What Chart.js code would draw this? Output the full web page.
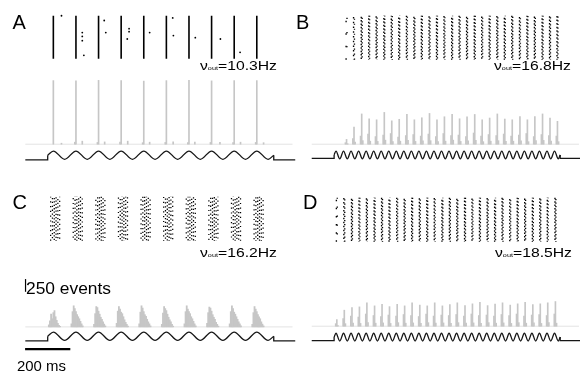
<!DOCTYPE html>
<html><head><meta charset="utf-8">
<script src="https://cdn.jsdelivr.net/npm/chart.js@4/dist/chart.umd.min.js"></script>
<style>
html,body{margin:0;padding:0;background:#fff;}
#wrap{position:relative;width:584px;height:372px;overflow:hidden;background:#fff;}
#c{position:absolute;left:0;top:0;}
.t{position:absolute;font-family:"Liberation Sans",Arial,Helvetica,sans-serif;color:#000;white-space:nowrap;line-height:1;transform-origin:0 0;}
.lab{font-size:20px;}
.nu{font-size:13px;}
.sub{font-size:6px;vertical-align:0px;}
</style></head>
<body><div id="wrap"><canvas id="c" width="584" height="372"></canvas></div>
<script>
// ---------------- DATA ----------------
// Stimulus waveforms (arbitrary units), knots at onset, peaks/troughs, offset (ms)
const stim10T = [0, 25, 75, 125, 175, 225, 275, 325, 375, 425, 475, 525, 575, 625, 675, 725, 775, 825, 875, 925, 975, 1000];
const stim10V = [4.8, 9, 0.6, 9, 0.6, 9, 0.6, 9, 0.6, 9, 0.6, 9, 0.6, 9, 0.6, 9, 0.6, 9, 0.6, 9, 0.6, 4.8];
const stim30T = [0, 8.3, 25, 41.7, 58.3, 75, 91.7, 108.3, 125, 141.7, 158.3, 175, 191.7, 208.3, 225, 241.7, 258.3, 275, 291.7, 308.3, 325, 341.7, 358.3, 375, 391.7, 408.3, 425, 441.7, 458.3, 475, 491.7, 508.3, 525, 541.7, 558.3, 575, 591.7, 608.3, 625, 641.7, 658.3, 675, 691.7, 708.3, 725, 741.7, 758.3, 775, 791.7, 808.3, 825, 841.7, 858.3, 875, 891.7, 908.3, 925, 941.7, 958.3, 975, 991.7, 1000];
const stim30V = [3.6, 7.5, -0.4, 7.5, -0.4, 7.5, -0.4, 7.5, -0.4, 7.5, -0.4, 7.5, -0.4, 7.5, -0.4, 7.5, -0.4, 7.5, -0.4, 7.5, -0.4, 7.5, -0.4, 7.5, -0.4, 7.5, -0.4, 7.5, -0.4, 7.5, -0.4, 7.5, -0.4, 7.5, -0.4, 7.5, -0.4, 7.5, -0.4, 7.5, -0.4, 7.5, -0.4, 7.5, -0.4, 7.5, -0.4, 7.5, -0.4, 7.5, -0.4, 7.5, -0.4, 7.5, -0.4, 7.5, -0.4, 7.5, -0.4, 7.5, -0.4, 3.6];
const traceStart = -99, stimTraceEnd = 1095, histLineEnd = 1083;

// Panel A: phase-locked spike columns (ms), stray spikes (ms, trial), PSTH bins (ms, events)
const spikesA = [25, 125, 225, 325, 425, 525, 625, 725, 825, 925];
const strayAT = [61, 153, 153, 153, 160, 250, 257, 360, 360, 352, 451, 553, 556, 653, 764, 851];
const strayATrial = [100, 61, 52, 42, 8, 89, 61, 70, 63, 46, 61, 95, 54, 49, 46, 15];
const histAT = [25, 61, 120, 125, 153, 220, 225, 252, 320, 325, 354, 420, 425, 451, 520, 525, 555, 620, 625, 651, 720, 725, 762, 820, 825, 853, 920, 925, 955];
const histAN = [1250, 20, 40, 1245, 60, 35, 1255, 45, 40, 1250, 60, 30, 1240, 40, 35, 1250, 45, 30, 1255, 40, 35, 1245, 35, 30, 1250, 40, 35, 1250, 30];

// Panel B: cycle spike times (ms) and PSTH counts (pre / main / post bin)
const peaksB = [55, 88, 122, 155, 188, 222, 255, 288, 322, 355, 388, 422, 455, 488, 522, 555, 588, 622, 655, 688, 722, 755, 788, 822, 855, 888, 922, 955, 988];
const histBMain = [95, 335, 595, 500, 480, 625, 460, 490, 585, 480, 520, 605, 480, 540, 585, 500, 540, 585, 480, 515, 595, 495, 480, 545, 480, 545, 595, 515, 450];
const histBPre = [30, 110, 160, 200, 150, 180, 210, 140, 170, 190, 160, 200, 150, 210, 170, 180, 150, 220, 160, 190, 170, 200, 160, 180, 210, 150, 190, 170, 160];
const histBPost = [10, 40, 70, 60, 55, 80, 50, 60, 75, 55, 65, 70, 50, 60, 80, 55, 65, 75, 50, 60, 70, 55, 60, 65, 50, 70, 75, 60, 50];

// Panel C: cycle onsets (ms), PSTH bin offsets (ms) and counts per cycle, raster spike-time lanes (ms)
const cyclesC = [0, 100, 200, 300, 400, 500, 600, 700, 800, 900];
const histCOffsets = [5, 10, 15, 20, 25, 30, 35, 40, 45, 50, 55];
const histC = [
  [40, 120, 250, 160, 280, 320, 200, 130, 70, 30, 10],
  [60, 300, 415, 360, 300, 240, 200, 160, 110, 60, 20],
  [50, 260, 400, 380, 310, 250, 190, 150, 100, 55, 20],
  [70, 310, 400, 350, 290, 260, 200, 140, 90, 50, 15],
  [60, 290, 415, 370, 300, 240, 210, 150, 100, 60, 20],
  [50, 270, 400, 360, 320, 250, 190, 140, 100, 50, 15],
  [60, 300, 415, 350, 300, 260, 200, 160, 110, 60, 20],
  [70, 280, 390, 370, 310, 240, 190, 150, 90, 50, 15],
  [60, 300, 415, 360, 290, 250, 200, 150, 100, 60, 20],
  [50, 280, 400, 350, 300, 240, 200, 160, 100, 55, 20]
];
const rasterCLanes = [13, 21, 29, 37, 45, 53];

// Panel D
const peaksD = [12, 45, 79, 112, 145, 179, 212, 245, 279, 312, 345, 379, 412, 445, 479, 512, 545, 579, 612, 645, 679, 712, 745, 779, 812, 845, 879, 912, 945, 979];
const histDMain = [130, 315, 365, 380, 460, 400, 430, 385, 430, 400, 460, 415, 400, 460, 400, 425, 460, 405, 440, 470, 405, 435, 460, 415, 440, 470, 425, 440, 460, 485];
const histDPre = [50, 150, 200, 180, 240, 210, 190, 220, 200, 230, 210, 190, 240, 200, 220, 210, 230, 200, 240, 210, 220, 200, 230, 210, 240, 200, 220, 230, 210, 240];
const histDPost = [15, 50, 60, 55, 70, 60, 65, 55, 70, 60, 65, 55, 70, 60, 65, 55, 70, 60, 65, 55, 70, 60, 65, 55, 70, 60, 65, 55, 70, 60];

const pairOffsets = [-5, 0, 5];       // ms, PSTH bins around each cycle peak
const rasterJitter = [-2, 2];         // ms, spike-time spread in B and D rasters
const trialRange = [0, 100];
const panelNames = ['A', 'B', 'C', 'D'];
const outRates = ['10.3', '16.8', '16.2', '18.5'];
const scaleBarMs = 200, scaleBarEvents = 250;

// ---------------- LAYOUT (px) ----------------
const W = 584, H = 372;
const layout = {
  A: {x0: 44.3, rTop: 12, rBot: 56, hBase: 143.3, sBase: 159.3, lab: [12.5, 12.4], nu: [200, 59]},
  B: {x0: 334.7, rTop: 12, rBot: 57, hBase: 143.3, sBase: 157.8, lab: [296, 12.4], nu: [493.5, 59]},
  C: {x0: 44.3, rTop: 197, rBot: 242, hBase: 330, sBase: 344.3, lab: [12.5, 192.4], nu: [200, 245.5]},
  D: {x0: 334.7, rTop: 198, rBot: 243, hBase: 329.3, sBase: 344, lab: [303, 192.4], nu: [495, 245.5]}
};
const kx = 0.2292, kHist = 13 / 250, kStim = 1;

// ---------------- SCALES ----------------
const scales = {};
panelNames.forEach(P => {
  const L = layout[P];
  const base = {type: 'linear', display: false};
  const xmin = -L.x0 / kx;
  scales['x' + P] = Object.assign({axis: 'x', offset: false, min: xmin, max: xmin + W / kx}, base);
  const kr = (L.rBot - L.rTop) / (trialRange[1] - trialRange[0]);
  const rMax = trialRange[1] + L.rTop / kr;
  scales['yR' + P] = Object.assign({axis: 'y', min: rMax - H / kr, max: rMax}, base);
  const hMax = L.hBase / kHist;
  scales['yH' + P] = Object.assign({axis: 'y', min: hMax - H / kHist, max: hMax}, base);
  const sMax = L.sBase / kStim;
  scales['yS' + P] = Object.assign({axis: 'y', min: sMax - H / kStim, max: sMax}, base);
});

// ---------------- DATASETS ----------------
const ds = [];
function addLine(o) {
  ds.push(Object.assign({type: 'line', pointRadius: 0, borderColor: '#000', borderWidth: 1,
    fill: false, tension: 0, order: 1}, o));
}
function addBars(P, data, thick) {
  ds.push({type: 'bar', xAxisID: 'x' + P, yAxisID: 'yH' + P, data: data, barThickness: thick,
    backgroundColor: '#c6c6c6', borderWidth: 0, grouped: false, order: 4});
}
const pts = (T, V) => T.map((t, i) => ({x: t, y: V[i]}));
const dashSet = [[1.5, 1.9], [1.2, 2.3]];

panelNames.forEach(P => {
  const xa = 'x' + P;
  addLine({xAxisID: xa, yAxisID: 'yH' + P, data: [{x: traceStart, y: 0}, {x: histLineEnd, y: 0}],
    borderColor: '#e3e3e3', borderWidth: 1, order: 5});
  const slow = (P === 'A' || P === 'C');
  const sT = slow ? stim10T : stim30T, sV = slow ? stim10V : stim30V;
  const n = sT.length - 1;
  const stimStyle = {xAxisID: xa, yAxisID: 'yS' + P, borderColor: '#161616', borderWidth: 1.3};
  addLine(Object.assign({data: pts(sT, sV), cubicInterpolationMode: 'monotone'}, stimStyle));
  addLine(Object.assign({data: [{x: traceStart, y: 0}, {x: sT[0], y: 0}, {x: sT[0], y: sV[0]}]}, stimStyle));
  addLine(Object.assign({data: [{x: sT[n], y: sV[n]}, {x: sT[n], y: 0}, {x: stimTraceEnd, y: 0}]}, stimStyle));
});

// Panel A histogram + raster
addBars('A', pts(histAT, histAN), 1);
addLine({xAxisID: 'xA', yAxisID: 'yRA', borderWidth: 1.6,
  data: spikesA.flatMap(t => [{x: t, y: trialRange[0]}, {x: t, y: trialRange[1]}, {x: t, y: null}])});
addLine({xAxisID: 'xA', yAxisID: 'yRA', showLine: false, pointRadius: 0.9, pointBorderWidth: 0,
  pointBackgroundColor: '#000', data: pts(strayAT, strayATrial)});

// Panels B and D: PSTH triplets + dotted raster columns
[['B', peaksB, [histBPre, histBMain, histBPost]], ['D', peaksD, [histDPre, histDMain, histDPost]]].forEach(([P, peaks, H3]) => {
  const bars = [];
  peaks.forEach((t, i) => pairOffsets.forEach((o, j) => bars.push({x: t + o, y: H3[j][i]})));
  addBars(P, bars, 1);
  const main = H3[1];
  const ref = Math.max.apply(null, main) * 0.75;
  peaks.forEach((t, i) => {
    const dens = Math.min(1, main[i] / ref);
    rasterJitter.forEach((jt, j) => {
      const d = dashSet[j];
      addLine({xAxisID: 'x' + P, yAxisID: 'yR' + P, borderWidth: 1.35,
        borderDash: [d[0], d[1] / dens + (1 - dens) * 2],
        borderDashOffset: ((i * 1.3 + j * 1.7) % 3),
        data: [{x: t + jt, y: trialRange[0]}, {x: t + jt, y: trialRange[1]}]});
    });
  });
});

// Panel C: PSTH clusters + scattered raster clusters
{
  const bars = [];
  cyclesC.forEach((c, i) => histCOffsets.forEach((o, k) => bars.push({x: c + o, y: histC[i][k]})));
  addBars('C', bars, 1.15);
  const laneDash = [[1.2, 3.6], [1.3, 2.6], [1.3, 2.1], [1.3, 2.0], [1.3, 2.5], [1.2, 3.4]];
  cyclesC.forEach((c, i) => {
    rasterCLanes.forEach((o, j) => {
      addLine({xAxisID: 'xC', yAxisID: 'yRC', borderWidth: 1.25,
        borderDash: laneDash[j], borderDashOffset: ((i * 1.7 + j * 1.3) % 4),
        data: [{x: c + o, y: trialRange[0]}, {x: c + o, y: trialRange[1]}]});
    });
  });
  addLine({xAxisID: 'xC', yAxisID: 'yHC', borderWidth: 1.2,
    data: [{x: -98, y: 690}, {x: -98, y: 690 + scaleBarEvents}]});
  addLine({xAxisID: 'xC', yAxisID: 'ySC', borderWidth: 2.4,
    data: [{x: -100, y: -8.4}, {x: -100 + scaleBarMs, y: -8.4}]});
}

new Chart(document.getElementById('c'), {
  type: 'line',
  data: {datasets: ds},
  options: {
    responsive: false, animation: false, events: [],
    layout: {padding: 0},
    plugins: {legend: {display: false}, tooltip: {enabled: false}, title: {display: false}},
    scales: scales
  }
});

// ---------------- TEXT ----------------
const wrap = document.getElementById('wrap');
function addText(html, cls, left, top, targetW, style) {
  const el = document.createElement('div');
  el.className = 't ' + cls;
  el.innerHTML = html;
  el.style.left = left + 'px'; el.style.top = top + 'px';
  if (style) el.style.cssText += style;
  wrap.appendChild(el);
  if (targetW) {
    const w = el.getBoundingClientRect().width;
    el.style.transform = 'scaleX(' + (targetW / w) + ')';
  }
}
panelNames.forEach((P, i) => {
  const L = layout[P];
  addText(P, 'lab', L.lab[0], L.lab[1]);
  addText('\u03bd<span class="sub">out</span>=' + outRates[i] + 'Hz', 'nu', L.nu[0], L.nu[1], 77);
});
addText(scaleBarEvents + ' events', '', 26, 280.5, 85, 'font-size:16px;');
addText(scaleBarMs + ' ms', '', 16.5, 357.5, 49, 'font-size:15px;');
</script>
</body></html>
